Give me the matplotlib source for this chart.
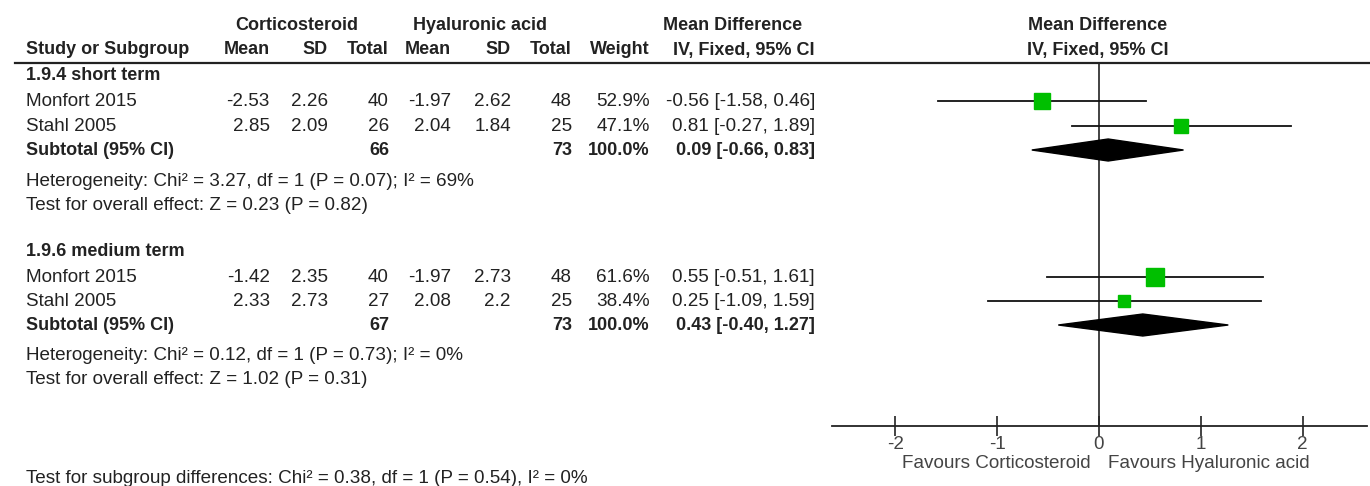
import matplotlib
matplotlib.use("Agg")
import matplotlib.pyplot as plt
from matplotlib.patches import Polygon

plt.rcParams['font.family'] = ['Liberation Sans', 'DejaVu Sans']
plt.rcParams['axes.unicode_minus'] = False

# ---------------- data ----------------
subgroups = ['1.9.4 short term', '1.9.6 medium term']
studies = [['Monfort 2015', 'Stahl 2005'], ['Monfort 2015', 'Stahl 2005']]
cs_mean = [[-2.53, 2.85], [-1.42, 2.33]]
cs_sd = [[2.26, 2.09], [2.35, 2.73]]
cs_n = [[40, 26], [40, 27]]
ha_mean = [[-1.97, 2.04], [-1.97, 2.08]]
ha_sd = [[2.62, 1.84], [2.73, 2.2]]
ha_n = [[48, 25], [48, 25]]
weights = [[52.9, 47.1], [61.6, 38.4]]
md = [[-0.56, 0.81], [0.55, 0.25]]
md_lo = [[-1.58, -0.27], [-0.51, -1.09]]
md_hi = [[0.46, 1.89], [1.61, 1.59]]
sub_cs_n = [66, 67]
sub_ha_n = [73, 73]
sub_weight = [100.0, 100.0]
sub_md = [0.09, 0.43]
sub_lo = [-0.66, -0.40]
sub_hi = [0.83, 1.27]
heterogeneity = ['Heterogeneity: Chi\u00b2 = 3.27, df = 1 (P = 0.07); I\u00b2 = 69%',
                 'Heterogeneity: Chi\u00b2 = 0.12, df = 1 (P = 0.73); I\u00b2 = 0%']
overall = ['Test for overall effect: Z = 0.23 (P = 0.82)',
           'Test for overall effect: Z = 1.02 (P = 0.31)']
subgroup_test = 'Test for subgroup differences: Chi\u00b2 = 0.38, df = 1 (P = 0.54), I\u00b2 = 0%'
xticks = [-2, -1, 0, 1, 2]
favours_left = 'Favours Corticosteroid'
favours_right = 'Favours Hyaluronic acid'

# ---------------- layout (pixels) ----------------
W, H = 1370, 486
FS = 13.6
FSB = 13
TXT = '#222222'
GRAY = '#444444'
GREEN = '#00bf00'

group_y = [76, 251]
study_y = [[101, 126], [277, 301]]
sub_y = [150, 325]
het_y = [181, 355]
ov_y = [205, 379]

col_right = [270, 328, 389, 451, 511, 572, 650, 815]

fig = plt.figure(figsize=(W / 100, H / 100), dpi=100)
fig.patch.set_facecolor('white')

# text axes in pixel coordinates
at = fig.add_axes([0, 0, 1, 1])
at.set_xlim(0, W)
at.set_ylim(H, 0)
at.axis('off')

def t(x, y, s, ha='left', bold=False, color=TXT, size=None):
    if size is None:
        size = FSB if bold else FS
    at.text(x, y, s, ha=ha, va='center', fontsize=size,
            fontweight='bold' if bold else 'normal', color=color)

# headers
t(297, 25, 'Corticosteroid', ha='center', bold=True)
t(480, 25, 'Hyaluronic acid', ha='center', bold=True)
t(733, 25, 'Mean Difference', ha='center', bold=True)
t(1098, 25, 'Mean Difference', ha='center', bold=True)
t(26, 50, 'Study or Subgroup', bold=True)
for x, s in zip(col_right, ['Mean', 'SD', 'Total', 'Mean', 'SD', 'Total', 'Weight',
                            'IV, Fixed, 95% CI']):
    t(x, 50, s, ha='right', bold=True)
t(1098, 50, 'IV, Fixed, 95% CI', ha='center', bold=True)
at.plot([15, W], [63, 63], color='#222222', lw=1.6)

for g in range(len(subgroups)):
    t(26, group_y[g], subgroups[g], bold=True)
    for i in range(len(studies[g])):
        y = study_y[g][i]
        t(26, y, studies[g][i])
        vals = [f"{cs_mean[g][i]:g}", f"{cs_sd[g][i]:g}", f"{cs_n[g][i]}",
                f"{ha_mean[g][i]:g}", f"{ha_sd[g][i]:g}", f"{ha_n[g][i]}",
                f"{weights[g][i]:.1f}%",
                f"{md[g][i]:.2f} [{md_lo[g][i]:.2f}, {md_hi[g][i]:.2f}]"]
        for x, s in zip(col_right, vals):
            t(x, y, s, ha='right')
    y = sub_y[g]
    t(26, y, 'Subtotal (95% CI)', bold=True)
    t(col_right[2], y, f"{sub_cs_n[g]}", ha='right', bold=True)
    t(col_right[5], y, f"{sub_ha_n[g]}", ha='right', bold=True)
    t(col_right[6], y, f"{sub_weight[g]:.1f}%", ha='right', bold=True)
    t(col_right[7], y, f"{sub_md[g]:.2f} [{sub_lo[g]:.2f}, {sub_hi[g]:.2f}]",
      ha='right', bold=True)
    t(26, het_y[g], heterogeneity[g])
    t(26, ov_y[g], overall[g])

t(26, 478, subgroup_test)

# ---------------- forest axes ----------------
x0_px, x_unit = 1099, 101.8
left_px, right_px = 832, 1367
top_px, axis_px = 63, 426
af = fig.add_axes([left_px / W, (H - axis_px) / H, (right_px - left_px) / W,
                   (axis_px - top_px) / H])
af.set_xlim((left_px - x0_px) / x_unit, (right_px - x0_px) / x_unit)
af.set_ylim(axis_px, top_px)
af.patch.set_alpha(0)
for s in ['top', 'left', 'right']:
    af.spines[s].set_visible(False)
af.spines['bottom'].set_color('#222222')
af.spines['bottom'].set_linewidth(1.3)
af.set_yticks([])
af.set_xticks(xticks)
af.set_xticklabels([str(v) for v in xticks])
af.tick_params(axis='x', direction='inout', length=14, width=1.2, color='#222222',
               labelsize=FS, labelcolor=GRAY, pad=0)
af.axvline(0, color='#222222', lw=1.2, zorder=1)

for g in range(len(subgroups)):
    for i in range(len(studies[g])):
        y = study_y[g][i]
        af.plot([md_lo[g][i], md_hi[g][i]], [y, y], color='#111111', lw=1.3, zorder=2)
        side_px = 0.3 * weights[g][i]
        af.plot([md[g][i]], [y], marker='s', linestyle='none',
                markersize=side_px * 0.72, color=GREEN, mec=GREEN, zorder=3)
    y = sub_y[g]
    h = 11
    poly = Polygon([(sub_lo[g], y), (sub_md[g], y - h), (sub_hi[g], y), (sub_md[g], y + h)],
                   closed=True, facecolor='black', edgecolor='black', zorder=3)
    af.add_patch(poly)

t(1091, 463, favours_left, ha='right', color=GRAY, size=13.6)
t(1108, 463, favours_right, ha='left', color=GRAY, size=13.6)

fig.savefig('out.png', dpi=100, facecolor='white')
